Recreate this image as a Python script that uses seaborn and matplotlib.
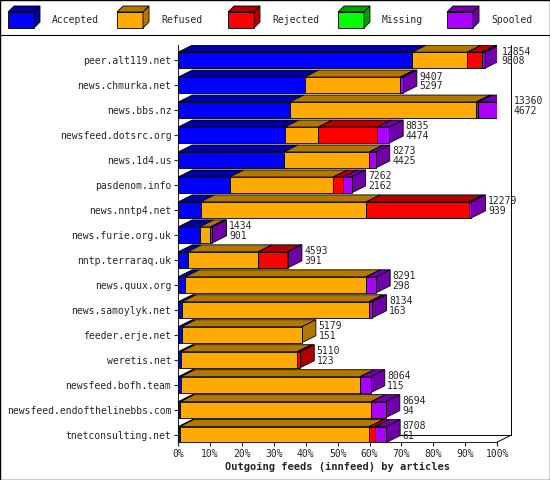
import matplotlib
matplotlib.use("Agg")
import matplotlib.pyplot as plt
import seaborn as sns
import numpy as np
from matplotlib.patches import Polygon, Rectangle

sns.set_style("white")
plt.rcParams['font.family'] = ['DejaVu Sans Mono']

hosts = ["peer.alt119.net","news.chmurka.net","news.bbs.nz","newsfeed.dotsrc.org","news.1d4.us",
         "pasdenom.info","news.nntp4.net","news.furie.org.uk","nntp.terraraq.uk","news.quux.org",
         "news.samoylyk.net","feeder.erje.net","weretis.net","newsfeed.bofh.team",
         "newsfeed.endofthelinebbs.com","tnetconsulting.net"]
totals   = [12854,9407,13360,8835,8273,7262,12279,1434,4593,8291,8134,5179,5110,8064,8694,8708]
accepted = [9808,5297,4672,4474,4425,2162,939,901,391,298,163,151,123,115,94,61]
refused  = [2300,4000,7800,1390,3575,4330,6930,450,2950,7570,7820,5028,4860,7500,7990,7940]
rejected = [630,0,100,2470,0,420,4300,0,1220,0,0,0,127,0,0,250]
missing  = [0]*16
spooled  = [t-a-r-j-m for t,a,r,j,m in zip(totals,accepted,refused,rejected,missing)]

names = ["Accepted","Refused","Rejected","Missing","Spooled"]
cols = ["#0000ff","#ffaa00","#ff0000","#00ff00","#aa00ff"]
dark = ["#0000a0","#b07800","#b00000","#00a000","#7000a8"]
series = [accepted,refused,rejected,missing,spooled]
scale = 100.0/max(totals)

fig = plt.figure(figsize=(5.5,4.8), dpi=100)
ax = fig.add_axes([0.324,0.079,0.58,0.827])
n = len(hosts)
ys = np.arange(n)
h = 0.64
dx, dy = 4.4, 0.28
ybot, ytop = n-0.7, -0.6
for i in range(n):
    left = 0.0
    last = 0
    for k,s in enumerate(series):
        w = s[i]*scale
        if w <= 0: continue
        ax.add_patch(Rectangle((left, i-h/2), w, h, fc=cols[k], ec="black", lw=0.6, zorder=3+i*0.01))
        ax.add_patch(Polygon([(left,i-h/2),(left+w,i-h/2),(left+w+dx,i-h/2-dy),(left+dx,i-h/2-dy)],
                             closed=True, fc=dark[k], ec="black", lw=0.6, zorder=3))
        left += w; last = k
    ax.add_patch(Polygon([(left,i-h/2),(left+dx,i-h/2-dy),(left+dx,i+h/2-dy),(left,i+h/2)],
                         closed=True, fc=dark[last], ec="black", lw=0.6, zorder=3))
    ax.text(left+dx+0.8, i-0.15, f"{totals[i]}\n{accepted[i]}", fontsize=7, va="center",
            ha="left", linespacing=0.95, zorder=5)

ax.set_xlim(0,100)
ax.set_ylim(ybot,ytop)
ax.set_yticks(ys)
ax.set_yticklabels(hosts, fontsize=7)
ax.set_xticks(np.arange(0,101,10))
ax.set_xticklabels([f"{v}%" for v in range(0,101,10)], fontsize=7)
ax.tick_params(length=3, pad=2, left=True, bottom=True)
for s in ["top","right"]:
    ax.spines[s].set_visible(False)
fx, fy = dx, dy
yb = ybot - fy
ax.plot([0,fx],[ybot,yb], color="black", lw=0.7, clip_on=False)
ax.plot([100,100+fx],[ybot,yb], color="black", lw=0.7, clip_on=False)
ax.plot([100+fx,100+fx],[yb,ytop], color="black", lw=0.7, clip_on=False)
ax.plot([fx,100+fx],[yb,yb], color="black", lw=0.7, clip_on=False)
ax.set_xlabel("Outgoing feeds (innfeed) by articles", fontsize=7.5, fontweight="bold", labelpad=2)

# legend
fig.add_artist(plt.Line2D([0,1],[1-35/480]*2, color="black", lw=0.8))
lx = [8, 117, 228, 338, 447]
for k,nm in enumerate(names):
    x0 = lx[k]/550; y0 = 1-28/480
    fig.add_artist(Rectangle((x0,y0), 26/550, 16/480, fc=cols[k], ec="black", lw=0.6, transform=fig.transFigure))
    fig.add_artist(Polygon([(x0,y0+16/480),(x0+6/550,y0+22/480),(x0+32/550,y0+22/480),(x0+26/550,y0+16/480)],
                           closed=True, fc=dark[k], ec="black", lw=0.6, transform=fig.transFigure))
    fig.add_artist(Polygon([(x0+26/550,y0),(x0+32/550,y0+6/480),(x0+32/550,y0+22/480),(x0+26/550,y0+16/480)],
                           closed=True, fc=dark[k], ec="black", lw=0.6, transform=fig.transFigure))
    fig.text(x0+44/550, 1-20/480, nm, fontsize=7, va="center")
fig.add_artist(Rectangle((0,0),1,1,fill=False,ec="black",lw=1,transform=fig.transFigure))
fig.savefig("out.png", dpi=100)
